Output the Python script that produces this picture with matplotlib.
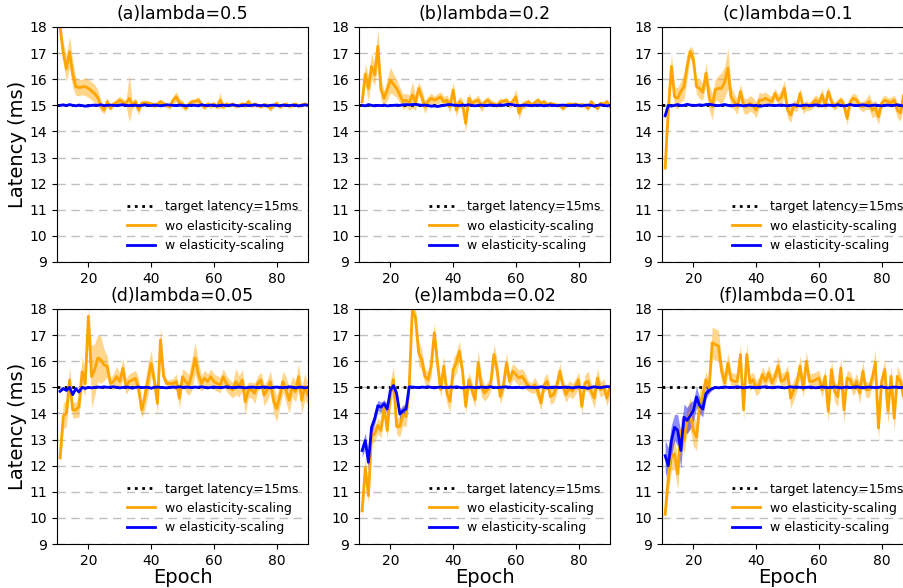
import numpy as np
import matplotlib.pyplot as plt

epochs = np.arange(11, 91)
titles = ['(a)lambda=0.5', '(b)lambda=0.2', '(c)lambda=0.1',
          '(d)lambda=0.05', '(e)lambda=0.02', '(f)lambda=0.01']
target = 15

# wo elasticity-scaling: mean and half-width of shaded band
wo_a = [18.0, 17.0, 16.4, 17.05, 16.2, 15.72, 15.68, 15.7, 15.72, 15.65,
        15.55, 15.45, 15.3, 14.98, 14.82, 15.14, 14.88, 15.05, 15.1, 15.2,
        15.1, 15.08, 15.27, 15.01, 15.14, 14.82, 15.08, 15.1, 15.08, 15.05,
        15.0, 15.05, 15.14, 15.05, 15.0, 14.95, 15.2, 15.33, 15.1, 15.05,
        14.88, 15.05, 15.14, 15.15, 15.2, 15.05, 14.92, 15.05, 14.98, 15.05,
        14.95, 15.2, 14.95, 15.05, 15.0, 15.05, 14.97, 15.0, 15.05, 15.0,
        15.14, 14.98, 15.05, 15.0, 14.95, 15.02, 15.0, 14.88, 14.98, 15.08,
        14.95, 15.0, 15.05, 14.97, 15.0, 15.05, 14.98, 15.02, 15.05, 15.0]
wo_a_err = [0.1, 0.4, 0.5, 0.6, 0.5, 0.35, 0.3, 0.3, 0.35, 0.35,
            0.35, 0.35, 0.3, 0.2, 0.15, 0.15, 0.1, 0.1, 0.15, 0.15,
            0.15, 0.1, 0.9, 0.15, 0.15, 0.2, 0.1, 0.1, 0.1, 0.1,
            0.1, 0.1, 0.1, 0.1, 0.1, 0.1, 0.15, 0.2, 0.15, 0.15,
            0.1, 0.1, 0.1, 0.1, 0.15, 0.1, 0.1, 0.1, 0.1, 0.1,
            0.1, 0.3, 0.1, 0.1, 0.08, 0.08, 0.08, 0.08, 0.1, 0.1,
            0.12, 0.08, 0.08, 0.08, 0.08, 0.08, 0.1, 0.12, 0.08, 0.1,
            0.08, 0.08, 0.08, 0.08, 0.08, 0.08, 0.08, 0.08, 0.08, 0.08]

wo_b = [15.14, 16.2, 15.65, 16.49, 16.17, 17.26, 15.6, 15.27, 15.6, 15.97,
        15.8, 15.65, 15.4, 15.14, 15.2, 15.1, 15.4, 15.1, 15.65, 15.33,
        14.95, 15.15, 15.27, 15.2, 15.25, 15.33, 15.14, 15.2, 14.95, 15.59,
        14.82, 15.14, 15.05, 14.31, 15.27, 15.08, 15.15, 15.2, 14.95, 15.1,
        15.2, 15.08, 15.05, 15.0, 15.14, 15.15, 15.2, 15.01, 15.15, 15.33,
        14.7, 15.01, 15.05, 15.14, 15.01, 15.1, 15.2, 15.08, 15.14, 15.01,
        15.08, 15.04, 15.01, 15.0, 14.88, 15.01, 15.05, 15.03, 15.05, 15.0,
        15.03, 15.0, 14.88, 15.14, 15.0, 14.88, 15.08, 15.05, 15.14, 14.95]
wo_b_err = [0.2, 0.4, 0.5, 0.5, 0.4, 0.7, 0.4, 0.3, 0.4, 0.5,
            0.4, 0.35, 0.3, 0.3, 0.25, 0.3, 0.5, 0.3, 0.25, 0.3,
            0.25, 0.2, 0.2, 0.15, 0.2, 0.2, 0.2, 0.2, 0.25, 0.3,
            0.25, 0.2, 0.2, 0.35, 0.2, 0.15, 0.15, 0.2, 0.2, 0.15,
            0.15, 0.15, 0.1, 0.1, 0.15, 0.1, 0.1, 0.15, 0.15, 0.3,
            0.25, 0.15, 0.15, 0.1, 0.1, 0.1, 0.1, 0.1, 0.1, 0.1,
            0.08, 0.08, 0.08, 0.08, 0.1, 0.08, 0.08, 0.08, 0.08, 0.08,
            0.08, 0.08, 0.1, 0.1, 0.08, 0.1, 0.08, 0.08, 0.1, 0.1]

wo_c = [12.6, 14.8, 16.49, 15.33, 15.27, 15.53, 15.72, 16.49, 17.06, 16.74,
        15.72, 15.65, 15.5, 16.23, 15.33, 14.95, 15.6, 15.65, 15.65, 15.9,
        16.42, 15.33, 15.14, 14.95, 15.53, 15.0, 14.95, 15.08, 15.0, 14.82,
        15.2, 15.2, 15.27, 15.2, 15.14, 15.46, 15.2, 15.3, 15.65, 14.82,
        14.63, 15.0, 14.95, 15.46, 14.88, 15.0, 14.95, 15.08, 15.2, 15.08,
        15.4, 15.0, 15.53, 15.14, 14.95, 15.08, 15.2, 15.0, 14.5, 15.14,
        15.27, 15.2, 15.0, 14.95, 15.05, 15.14, 14.82, 14.9, 14.56, 15.08,
        15.2, 15.14, 15.1, 15.2, 14.82, 14.7, 15.4, 15.5, 15.2, 15.3]
wo_c_err = [0.3, 0.5, 0.5, 0.4, 0.4, 0.4, 0.5, 0.5, 0.2, 0.4,
            0.3, 0.4, 0.3, 0.4, 0.5, 0.5, 0.4, 0.5, 0.6, 0.6,
            0.8, 0.4, 0.3, 0.3, 0.3, 0.3, 0.3, 0.3, 0.3, 0.3,
            0.3, 0.25, 0.25, 0.2, 0.2, 0.2, 0.2, 0.3, 0.3, 0.3,
            0.3, 0.2, 0.2, 0.2, 0.2, 0.2, 0.15, 0.2, 0.2, 0.2,
            0.25, 0.2, 0.2, 0.2, 0.15, 0.15, 0.15, 0.2, 0.25, 0.2,
            0.2, 0.2, 0.15, 0.2, 0.2, 0.3, 0.3, 0.3, 0.3, 0.2,
            0.2, 0.15, 0.2, 0.2, 0.3, 0.3, 0.3, 0.3, 0.3, 0.3]

wo_d = [12.3, 13.9, 14.0, 15.28, 14.13, 14.13, 14.26, 15.6, 15.15, 17.72,
        15.41, 15.67, 16.12, 16.05, 15.86, 15.8, 15.15, 15.22, 15.41, 15.22,
        15.73, 15.03, 15.22, 15.28, 15.35, 14.96, 14.13, 14.64, 15.3, 15.92,
        15.28, 14.38, 16.82, 15.41, 15.15, 15.15, 15.15, 15.22, 14.58, 15.41,
        15.22, 15.09, 15.5, 16.12, 15.54, 15.15, 15.35, 15.22, 15.41, 15.22,
        15.15, 15.09, 15.41, 15.15, 15.0, 14.9, 15.22, 15.03, 15.28, 14.45,
        14.9, 14.9, 14.77, 15.15, 15.28, 14.7, 14.9, 15.22, 14.51, 14.19,
        14.64, 15.22, 14.9, 14.51, 15.03, 14.83, 15.41, 14.51, 15.03, 14.7]
wo_d_err = [0.2, 0.5, 0.5, 0.5, 0.3, 0.3, 0.4, 0.6, 0.5, 0.3,
            1.2, 1.0, 0.9, 0.9, 0.6, 0.4, 0.2, 0.3, 0.4, 0.3,
            0.4, 0.3, 0.3, 0.3, 0.3, 0.4, 0.3, 0.5, 0.6, 0.5,
            0.3, 0.4, 0.5, 0.2, 0.15, 0.15, 0.2, 0.3, 0.4, 0.3,
            0.4, 0.4, 0.6, 0.6, 0.5, 0.3, 0.3, 0.3, 0.3, 0.3,
            0.3, 0.3, 0.3, 0.3, 0.3, 0.3, 0.5, 0.4, 0.4, 0.5,
            0.3, 0.3, 0.4, 0.3, 0.3, 0.4, 0.4, 0.4, 0.5, 0.5,
            0.4, 0.4, 0.5, 0.5, 0.4, 0.4, 0.5, 0.5, 0.5, 0.4]

wo_e = [10.27, 11.93, 10.85, 13.15, 13.22, 13.54, 13.35, 14.25, 13.35, 14.76,
        15.3, 13.5, 13.5, 13.95, 13.88, 15.04, 17.99, 17.67, 16.32, 16.06,
        15.42, 15.29, 15.81, 17.09, 15.94, 14.91, 15.81, 14.78, 14.46, 15.68,
        15.94, 16.38, 15.62, 14.27, 15.29, 14.91, 14.53, 15.94, 15.04, 14.78,
        14.91, 15.17, 16.26, 15.68, 14.65, 15.04, 15.94, 15.23, 15.62, 15.49,
        15.36, 15.42, 15.23, 15.04, 14.97, 15.1, 14.85, 14.4, 15.1, 15.23,
        14.65, 14.72, 15.04, 15.62, 15.04, 14.72, 14.97, 14.85, 15.04, 15.29,
        14.27, 15.17, 15.23, 14.85, 14.59, 15.36, 14.91, 15.04, 14.59, 15.0]
wo_e_err = [0.3, 0.4, 0.3, 0.3, 0.3, 0.3, 0.3, 0.3, 0.3, 0.5,
            0.5, 0.3, 0.4, 0.4, 0.4, 0.4, 0.2, 0.4, 0.5, 0.4,
            0.3, 0.3, 0.4, 0.4, 0.3, 0.3, 0.4, 0.4, 0.4, 0.4,
            0.4, 0.4, 0.3, 0.3, 0.3, 0.3, 0.3, 0.5, 0.4, 0.3,
            0.3, 0.3, 0.4, 0.4, 0.3, 0.3, 0.4, 0.3, 0.3, 0.3,
            0.3, 0.3, 0.3, 0.2, 0.2, 0.3, 0.3, 0.3, 0.3, 0.3,
            0.3, 0.3, 0.3, 0.3, 0.3, 0.3, 0.3, 0.3, 0.3, 0.3,
            0.3, 0.3, 0.4, 0.3, 0.4, 0.4, 0.3, 0.3, 0.3, 0.3]

wo_f = [10.14, 11.55, 12.32, 12.45, 11.68, 13.35, 12.96, 13.73, 13.99, 13.35,
        13.09, 14.37, 14.65, 15.29, 14.97, 16.71, 16.64, 16.58, 15.62, 15.17,
        15.94, 15.29, 15.23, 15.23, 16.26, 14.14, 16.26, 15.17, 15.29, 14.97,
        15.1, 15.49, 15.23, 15.55, 15.17, 15.4, 15.81, 15.23, 15.29, 15.55,
        14.59, 14.91, 15.17, 15.81, 14.91, 16.0, 15.23, 15.23, 15.29, 15.36,
        14.91, 15.42, 14.08, 15.68, 14.85, 14.65, 15.74, 14.14, 15.36, 15.29,
        14.97, 15.23, 14.78, 15.62, 14.91, 14.91, 15.36, 15.94, 13.44, 15.23,
        15.68, 14.08, 15.42, 13.82, 15.42, 15.23, 14.65, 15.1, 15.0, 14.6]
wo_f_err = [0.3, 0.6, 0.5, 0.6, 0.6, 0.5, 0.5, 0.5, 0.6, 0.6,
            0.5, 0.5, 0.5, 0.3, 0.3, 0.6, 0.6, 0.6, 0.4, 0.3,
            0.4, 0.3, 0.3, 0.3, 0.4, 0.4, 0.4, 0.3, 0.3, 0.3,
            0.3, 0.3, 0.3, 0.3, 0.3, 0.3, 0.4, 0.3, 0.3, 0.3,
            0.4, 0.4, 0.3, 0.4, 0.3, 0.4, 0.3, 0.3, 0.3, 0.3,
            0.3, 0.3, 0.4, 0.4, 0.4, 0.4, 0.4, 0.5, 0.3, 0.3,
            0.3, 0.3, 0.4, 0.4, 0.3, 0.3, 0.3, 0.5, 0.5, 0.3,
            0.4, 0.5, 0.4, 0.5, 0.4, 0.3, 0.4, 0.3, 0.3, 0.4]

# w elasticity-scaling: mean and half-width of shaded band
w_a = [15.0, 15.02, 14.99, 15.03, 15.0, 14.98, 15.01, 14.99, 14.97, 14.98,
       15.0, 15.01, 15.0, 15.02, 14.99, 15.0, 15.01, 15.0, 14.99, 15.01,
       15.02, 15.0, 14.99, 15.0, 15.01, 14.98, 15.0, 15.02, 15.0, 14.99,
       15.01, 15.0, 14.98, 15.0, 15.02, 15.01, 15.0, 14.99, 15.01, 15.0,
       14.98, 15.0, 15.01, 15.0, 14.98, 15.02, 15.0, 14.99, 15.01, 15.0,
       14.98, 15.0, 15.01, 14.99, 15.0, 15.02, 15.0, 14.98, 15.0, 15.01,
       14.99, 15.0, 15.02, 15.0, 14.99, 15.01, 14.98, 15.0, 15.01, 15.0,
       14.98, 15.01, 15.0, 14.99, 15.01, 15.0, 14.98, 15.0, 15.02, 15.0]
w_b = [15.0, 14.98, 15.03, 15.0, 14.98, 15.0, 14.99, 15.01, 14.98, 14.99,
       15.0, 15.01, 15.0, 15.02, 15.03, 15.02, 15.03, 15.04, 15.02, 15.0,
       15.01, 14.99, 14.97, 14.98, 14.96, 14.98, 15.0, 15.02, 15.03, 15.01,
       15.0, 14.99, 15.01, 15.0, 15.02, 15.0, 14.98, 15.0, 15.01, 14.99,
       15.0, 15.01, 15.0, 14.99, 15.02, 15.0, 15.03, 15.04, 15.02, 15.0,
       14.99, 15.0, 15.01, 15.0, 14.99, 15.0, 15.01, 15.0, 14.98, 15.0,
       15.01, 15.0, 14.99, 15.0, 15.01, 15.0, 14.99, 15.0, 15.01, 15.0,
       14.98, 15.0, 15.01, 15.0, 14.97, 15.0, 15.02, 15.0, 14.98, 15.0]
w_c = [14.6, 15.0, 14.97, 15.0, 15.03, 14.99, 15.0, 15.04, 15.01, 15.0,
       15.0, 15.02, 15.0, 15.03, 15.04, 15.02, 15.0, 14.99, 15.01, 15.03,
       15.0, 14.98, 15.0, 15.01, 15.0, 14.98, 15.0, 15.01, 14.99, 15.0,
       14.97, 14.98, 15.0, 15.01, 15.0, 14.99, 15.0, 15.01, 15.0, 14.98,
       15.0, 15.02, 15.0, 14.98, 15.0, 15.01, 14.99, 15.0, 15.02, 15.0,
       14.98, 15.0, 15.01, 15.0, 14.99, 15.02, 15.0, 14.98, 15.0, 15.03,
       15.0, 14.99, 15.0, 15.02, 15.0, 14.98, 15.0, 15.01, 15.0, 14.98,
       15.0, 15.01, 14.99, 15.0, 15.02, 15.0, 14.97, 15.0, 14.95, 15.0]
w_d = [14.85, 14.95, 14.88, 15.0, 14.72, 14.95, 14.82, 15.0, 14.96, 15.0,
       14.98, 15.0, 15.01, 15.0, 15.02, 15.0, 15.01, 15.02, 15.0, 14.98,
       15.0, 15.01, 15.0, 14.97, 15.0, 15.01, 14.99, 15.0, 15.0, 14.97,
       15.0, 15.01, 15.0, 14.99, 14.98, 15.0, 15.01, 15.0, 15.02, 15.0,
       15.01, 15.0, 14.99, 15.01, 15.0, 15.02, 15.0, 14.98, 15.0, 15.01,
       15.0, 14.99, 15.0, 15.02, 15.0, 14.99, 15.0, 15.01, 15.0, 14.98,
       15.0, 15.01, 15.0, 14.99, 15.0, 15.01, 15.0, 14.98, 15.0, 15.01,
       15.0, 14.99, 15.0, 15.02, 15.0, 14.98, 15.0, 15.01, 14.98, 15.0]
w_e = [12.58, 12.96, 12.13, 13.47, 13.79, 14.3, 14.24, 14.37, 14.17, 14.88,
       15.07, 14.76, 13.98, 14.1, 14.17, 15.02, 15.01, 15.0, 14.99, 15.01,
       15.0, 15.02, 15.0, 14.98, 15.0, 15.01, 15.0, 14.99, 15.01, 15.0,
       15.02, 15.0, 14.98, 15.0, 15.01, 15.0, 14.99, 15.0, 15.01, 15.0,
       15.0, 15.02, 15.0, 14.99, 15.0, 15.01, 15.02, 15.0, 14.99, 15.0,
       15.0, 14.98, 15.0, 15.01, 15.0, 14.99, 15.0, 15.02, 15.0, 14.98,
       15.0, 15.01, 15.0, 14.99, 15.0, 15.01, 15.0, 14.98, 15.0, 15.01,
       15.0, 14.99, 14.96, 15.0, 15.02, 15.0, 14.99, 15.01, 15.03, 15.02]
w_f = [12.38, 12.0, 12.96, 13.47, 13.35, 12.58, 13.86, 13.73, 13.92, 14.11,
       14.63, 14.3, 14.17, 14.76, 14.88, 14.95, 15.0, 14.98, 15.0, 15.01,
       15.0, 14.99, 15.0, 15.02, 15.0, 14.98, 15.0, 15.01, 15.0, 14.99,
       15.0, 15.01, 15.02, 15.0, 14.99, 15.0, 15.01, 15.0, 14.98, 15.0,
       15.02, 15.0, 15.01, 15.0, 14.99, 15.0, 15.01, 15.0, 14.98, 15.0,
       15.01, 15.0, 14.99, 15.0, 15.01, 15.0, 14.98, 15.0, 15.01, 14.99,
       15.0, 15.02, 15.0, 14.98, 15.0, 15.01, 15.0, 14.99, 15.0, 15.02,
       15.0, 14.98, 15.0, 15.01, 15.0, 14.99, 15.0, 15.02, 15.0, 14.99]
w_e_err = [0.25, 0.3, 0.3, 0.25, 0.2, 0.2, 0.2, 0.15, 0.2, 0.15,
           0.1, 0.15, 0.2, 0.2, 0.2, 0.05] + [0.03] * 64
w_f_err = [0.6, 0.7, 0.6, 0.5, 0.6, 0.7, 0.5, 0.5, 0.5, 0.4,
           0.4, 0.3, 0.3, 0.2, 0.1, 0.05] + [0.03] * 64
w_small_err = [0.03] * 80

wo_all = [(wo_a, wo_a_err), (wo_b, wo_b_err), (wo_c, wo_c_err),
          (wo_d, wo_d_err), (wo_e, wo_e_err), (wo_f, wo_f_err)]
w_all = [(w_a, w_small_err), (w_b, w_small_err), (w_c, w_small_err),
         (w_d, w_small_err), (w_e, w_e_err), (w_f, w_f_err)]

fig = plt.figure(figsize=(9.04, 5.88), dpi=100)
lefts = [57 / 904, 359 / 904, 662 / 904]
bottoms = [1 - 262 / 588, 1 - 544 / 588]
w, h = 251 / 904, 235 / 588

for i in range(6):
    r, c = divmod(i, 3)
    ax = fig.add_axes([lefts[c], bottoms[r], w, h])
    ax.set_axisbelow(True)
    ax.yaxis.grid(True, linestyle=(0, (6, 4)), color='#c0c0c0', linewidth=1)

    ax.plot([10, 90], [target, target], color='black', linestyle=':',
            linewidth=2, label='target latency=15ms')

    m, e = np.array(wo_all[i][0]), np.array(wo_all[i][1])
    ax.fill_between(epochs, m - e, m + e, color='orange', alpha=0.45, linewidth=0)
    ax.plot(epochs, m, color='orange', linewidth=2, label='wo elasticity-scaling')

    m, e = np.array(w_all[i][0]), np.array(w_all[i][1])
    ax.fill_between(epochs, m - e, m + e, color='blue', alpha=0.45, linewidth=0)
    ax.plot(epochs, m, color='blue', linewidth=2, label='w elasticity-scaling')

    ax.set_xlim(10, 90)
    ax.set_ylim(9, 18)
    ax.set_xticks([20, 40, 60, 80])
    ax.set_yticks(range(9, 19))
    ax.tick_params(labelsize=10)
    ax.set_title(titles[i], fontsize=12.5)
    if c == 0:
        ax.set_ylabel('Latency (ms)', fontsize=14, labelpad=2)
    if r == 1:
        ax.set_xlabel('Epoch', fontsize=14, labelpad=0)
    ax.legend(loc='lower right', frameon=False, fontsize=9,
              handlelength=2.2, borderaxespad=0.4)

fig.savefig('out.png', dpi=100)
